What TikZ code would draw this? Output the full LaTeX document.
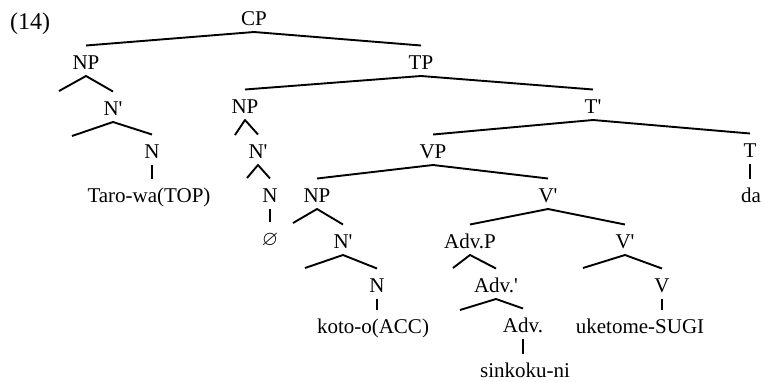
\documentclass[tikz,border=0pt]{standalone}
\usepackage{amssymb}
\usepackage{fontspec}
\setmainfont{Liberation Serif}
\usepackage{tikz}
\usetikzlibrary{positioning}

\newcommand{\br}{\textquotesingle}

\begin{document}
\begin{tikzpicture}[x=1pt,y=-1pt,font=\fontsize{21}{24}\selectfont,
  lbl/.style={anchor=base,inner sep=0pt,outer sep=6pt,text height=17.5pt,text depth=1pt},
  branch/.style={line width=1.9pt,line join=round},
  unary/.style={line width=1.2pt}]
\useasboundingbox (0,0) rectangle (764,381);
\node[anchor=base,font=\fontsize{24}{27}\selectfont] (num) at (30,29) {(14)};
% categories
\node[lbl] (cp) at (254,25) {CP};
\node[lbl] (np1) at (86,69) {NP};
\node[lbl] (tp) at (421,69) {TP};
\node[lbl] (nbar1) at (113,115) {N\br};
\node[lbl] (n1) at (152,158) {N};
\node[lbl] (np2) at (245,113) {NP};
\node[lbl] (nbar2) at (258,158) {N\br};
\node[lbl] (n2) at (270,202) {N};
\node[lbl] (tbar) at (593,113) {T\br};
\node[lbl] (vp) at (433,158) {VP};
\node[lbl] (t) at (750,157) {T};
\node[lbl] (np3) at (317,202) {NP};
\node[lbl] (vbar1) at (548,202) {V\br};
\node[lbl] (nbar3) at (343,248) {N\br};
\node[lbl] (advp) at (470,248) {Adv.P};
\node[lbl] (vbar2) at (625,248) {V\br};
\node[lbl] (n3) at (377,292) {N};
\node[lbl] (advbar) at (496,292) {Adv.\br};
\node[lbl] (v) at (662,292) {V};
\node[lbl] (adv) at (523,332) {Adv.};
% words
\node[lbl] (taro) at (149,202) {Taro-wa(TOP)};
\node[lbl] (null) at (270,245) {$\varnothing$};
\node[lbl] (da) at (751,202) {da};
\node[lbl] (koto) at (373,333) {koto-o(ACC)};
\node[lbl] (uke) at (640,333) {uketome-SUGI};
\node[lbl] (sinkoku) at (525,377) {sinkoku-ni};
% empty specifier ends
\coordinate (np1spec) at (59,91);
\coordinate (nbar1spec) at (72,136);
\coordinate (np2spec) at (235,135);
\coordinate (nbar2spec) at (247,178);
\coordinate (np3spec) at (293,223);
\coordinate (nbar3spec) at (305,268);
\coordinate (advpspec) at (453,268);
\coordinate (advbarspec) at (460,310);
\coordinate (vbar2spec) at (583,268);

\draw[branch] (np1.north) -- (cp.south) -- (tp.north);
\draw[branch] (np1spec) -- (np1.south) -- (nbar1.north);
\draw[branch] (nbar1spec) -- (nbar1.south) -- (n1.north);
\draw[branch] (np2.north) -- (tp.south) -- (tbar.north);
\draw[branch] (np2spec) -- (np2.south) -- (nbar2.north);
\draw[branch] (nbar2spec) -- (nbar2.south) -- (n2.north);
\draw[branch] (vp.north) -- (tbar.south) -- (t.north);
\draw[branch] (np3.north) -- (vp.south) -- (vbar1.north);
\draw[branch] (np3spec) -- (np3.south) -- (nbar3.north);
\draw[branch] (nbar3spec) -- (nbar3.south) -- (n3.north);
\draw[branch] (advp.north) -- (vbar1.south) -- (vbar2.north);
\draw[branch] (advpspec) -- (advp.south) -- (advbar.north);
\draw[branch] (advbarspec) -- (advbar.south) -- (adv.north);
\draw[branch] (vbar2spec) -- (vbar2.south) -- (v.north);

\draw[unary] (n1.south) -- (n1.south |- taro.north);
\draw[unary] (n2.south) -- (n2.south |- null.north);
\draw[unary] (t.south) -- (t.south |- da.north);
\draw[unary] (n3.south) -- (n3.south |- koto.north);
\draw[unary] (v.south) -- (v.south |- uke.north);
\draw[unary] (adv.south) -- (adv.south |- sinkoku.north);
\end{tikzpicture}
\end{document}
